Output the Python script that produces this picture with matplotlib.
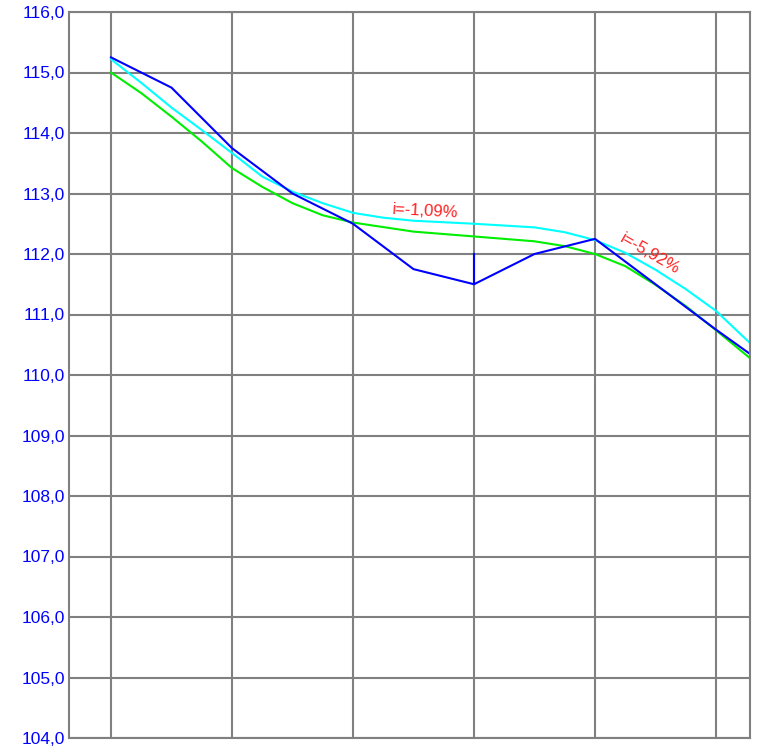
import matplotlib.pyplot as plt

# Данные (x в шагах сетки)
x_blue = [0, 0.5, 1, 1.5, 2, 2.5, 3, 3.5, 4, 4.5, 5, 5.28]
y_blue = [115.25, 114.75, 113.75, 113.0, 112.5, 111.75, 111.5, 112.0, 112.25, 111.5, 110.75, 110.35]

x_cyan = [0, 0.25, 0.5, 0.75, 1, 1.25, 1.5, 1.75, 2, 2.25, 2.5, 3, 3.5, 3.75, 4, 4.25, 4.5, 4.75, 5, 5.28]
y_cyan = [115.22, 114.83, 114.42, 114.05, 113.67, 113.28, 113.03, 112.84, 112.68, 112.60, 112.55, 112.50, 112.44,
          112.36, 112.23, 112.02, 111.74, 111.42, 111.06, 110.53]

x_green = [0, 0.25, 0.5, 0.75, 1, 1.25, 1.5, 1.75, 2, 2.5, 3, 3.5, 3.75, 4, 4.25, 4.5, 4.75, 5, 5.28]
y_green = [115.0, 114.66, 114.27, 113.86, 113.42, 113.11, 112.84, 112.64, 112.52, 112.37, 112.29, 112.21, 112.13,
           112.0, 111.80, 111.49, 111.14, 110.74, 110.28]

# вертикальный отрезок на пикете 3
x_tick = [3, 3]
y_tick = [111.5, 112.0]

labels = ['i=-1,09%', 'i=-5,92%']
label_x = [2.6, 4.45]
label_y = [112.7, 112.0]
label_rot = [-3, -30]

yticks = list(range(104, 117))
xgrid = [0, 1, 2, 3, 4, 5]

plt.rcParams['font.family'] = ['Liberation Sans', 'DejaVu Sans']

fig = plt.figure(figsize=(7.62, 7.5), dpi=100)
ax = fig.add_axes([69 / 762, 12 / 750, (750 - 69) / 762, (738 - 12) / 750])

ax.plot(x_cyan, y_cyan, color='#00ffff', lw=1.5)
ax.plot(x_green, y_green, color='#00ee00', lw=1.5)
ax.plot(x_blue, y_blue, color='#0000ff', lw=1.5)
ax.plot(x_tick, y_tick, color='#0000ff', lw=1.5)

for t, lx, ly, r in zip(labels, label_x, label_y, label_rot):
	ax.text(lx, ly, t, color='#ff2020', fontsize=12, rotation=r, ha='center', va='center',
			rotation_mode='anchor')

ax.set_xlim(-0.347, 5.281)
ax.set_ylim(104, 116)
ax.set_xticks(xgrid)
ax.set_yticks(yticks)
ax.set_yticklabels(['{:.1f}'.format(v).replace('.', ',') for v in yticks], color='#0000ff', fontsize=12.5)
ax.set_xticklabels([])
ax.tick_params(length=0, pad=3)
ax.grid(True, color='#808080', lw=1.5)
ax.set_axisbelow(True)
for s in ax.spines.values():
	s.set_color('#808080')
	s.set_linewidth(1.5)

fig.savefig('out.png', dpi=100)
